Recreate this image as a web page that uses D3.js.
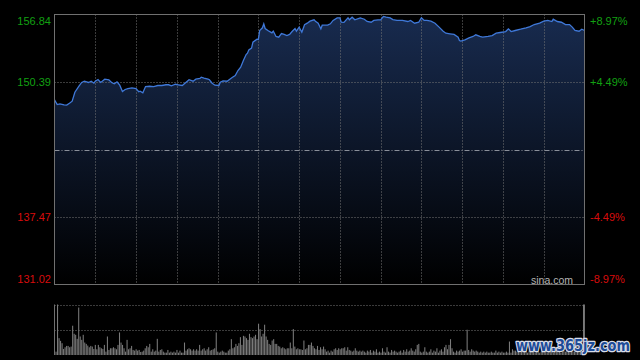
<!DOCTYPE html>
<html>
<head>
<meta charset="utf-8">
<script src="https://cdn.jsdelivr.net/npm/d3@7"></script>
<style>
  html, body { margin: 0; padding: 0; background: #000; }
  svg { display: block; }
</style>
</head>
<body>
<svg id="chart" width="640" height="360"></svg>
<script>
// minutes from the open (390 minute session) and price
const minutes = [0,2,4,7,9,11,13,15,18,20,22,25,27,29,30,32,34,37,40,42,44,46,48,50,52,54,57,60,62,63,65,67,70,73,76,79,82,84,86,89,91,94,96,
  99,102,104,107,108,110,113,114,116,118,121,122,124,127,129,131,133,135,137,139,141,142,143,145,146,149,150,151,153,154,155,157,160,161,163,165,167,169,171,173,175,177,178,180,182,184,186,188,191,192,194,
  196,197,201,203,205,208,210,211,213,216,217,219,221,225,228,230,233,235,238,240,242,244,247,249,252,256,260,262,265,268,270,272,274,277,280,283,286,288,291,
  294,297,298,299,302,305,308,310,313,315,319,322,325,328,332,334,336,339,343,347,350,353,357,360,363,366,367,370,373,376,379,381,383,386,388,390];
const prices = [148.68,148.23,148.30,148.20,148.18,148.36,148.55,149.41,149.98,150.34,150.46,150.34,150.46,150.27,150.46,150.62,150.34,150.65,150.60,150.34,150.21,150.40,150.08,149.48,149.67,149.76,149.83,149.76,149.45,149.51,149.35,149.95,149.98,149.95,150.05,150.05,150.12,150.12,150.02,150.17,150.12,150.05,150.27,
  150.60,150.46,150.65,150.72,150.84,150.75,150.65,150.60,150.27,150.08,150.05,150.37,150.50,150.46,150.65,150.84,151.01,151.48,151.80,152.44,153.01,153.14,153.46,153.62,154.19,154.48,154.45,155.31,155.57,155.95,155.50,155.31,155.09,155.24,154.74,154.67,155.02,154.93,154.83,154.93,155.24,155.50,155.24,155.63,155.15,155.86,156.01,156.20,156.33,156.20,156.01,
  155.47,155.82,155.82,155.95,156.27,156.52,156.52,156.10,156.08,156.52,156.33,156.58,156.33,156.52,156.39,156.17,156.10,156.27,156.33,156.33,156.65,156.58,156.52,156.36,156.27,156.27,156.17,156.27,156.01,156.10,156.52,156.27,156.27,156.20,156.01,155.63,155.24,155.05,154.99,
  154.93,154.67,154.35,154.29,154.42,154.61,154.74,154.90,154.74,154.67,154.74,154.83,155.05,155.12,155.21,155.47,155.21,155.31,155.43,155.57,155.69,155.88,156.01,156.20,156.27,156.17,156.39,156.17,156.10,155.88,155.88,155.63,155.31,155.24,155.43,155.31];

// volume (relative units, full panel = 150)
const volumes = [10,150,50,42,35,18,23,27,27,23,25,87,63,60,48,141,55,45,60,37,33,28,23,27,25,18,30,17,30,23,20,18,30,10,55,15,20,20,23,20,17,30,67,37,30,20,10,45,17,20,27,15,13,17,13,15,9,10,13,20,27,23,33,10,17,10,13,48,10,15,17,10,7,7,15,7,10,7,10,7,15,7,13,7,7,37,13,17,20,17,13,17,13,17,13,30,13,17,20,13,17,23,13,15,17,20,67,10,7,10,13,10,7,7,13,17,47,20,23,33,27,35,53,30,57,55,50,45,63,53,50,55,60,47,93,77,55,63,90,55,45,33,30,43,47,33,33,27,25,20,23,20,17,20,20,37,20,77,25,17,20,17,17,15,43,17,20,30,30,37,27,20,17,27,15,23,17,25,
  17,10,13,7,13,10,17,20,15,20,17,20,20,23,13,23,15,13,10,13,20,13,10,13,10,13,10,7,13,10,15,7,13,10,17,7,10,7,20,10,7,23,10,7,15,10,13,10,7,10,13,7,15,10,17,10,13,20,13,10,17,30,33,10,7,10,23,10,7,10,17,7,13,10,20,7,13,17,10,23,30,17,30,47,20,10,7,13,10,13,17,10,13,13,75,15,10,17,13,10,13,10,7,10,7,10,7,10,7,7,10,7,7,13,7,10,7,10,7,7,10,7,40,7,17,13,13,
  10,13,7,10,13,17,10,7,13,10,20,10,7,13,10,7,10,13,17,10,7,10,13,10,7,10,13,20,10,7,10,13,10,17,10,7,13,10,10,13,17,10,13,20,150];

const priceTicks = [156.84, 150.39, 143.93, 137.47, 131.02];
const pctLabels = ['+8.97%', '+4.49%', '', '-4.49%', '-8.97%'];
const timeTicks = [30,60,90,120,150,180,210,240,270,300,330,360];

window.onload = function() {
    drawChart();
};

function drawChart() {
    let svg = d3.select('#chart');
    let left = 54.5, right = 584.5, top = 14.5, bottom = 284.5;
    let vTop = 304.5, vBottom = 355;

    let x = d3.scaleLinear().domain([0, 390]).range([left, right]);
    let y = d3.scaleLinear().domain([131.02, 156.84]).range([bottom, top]);

    let defs = svg.append('defs');
    let grad = defs.append('linearGradient')
        .attr('id', 'fillGrad')
        .attr('gradientUnits', 'userSpaceOnUse')
        .attr('x1', 0).attr('y1', top).attr('x2', 0).attr('y2', bottom);
    grad.append('stop').attr('offset', '0%').attr('stop-color', '#182b4f');
    grad.append('stop').attr('offset', '100%').attr('stop-color', '#000000');

    let pts = minutes.map((m, i) => [m, prices[i]]);

    let area = d3.area()
        .x(d => x(d[0]))
        .y0(bottom)
        .y1(d => y(d[1]));
    svg.append('path')
        .datum(pts)
        .attr('fill', 'url(#fillGrad)')
        .attr('d', area);

    // grid
    svg.append('g').selectAll('line')
        .data(timeTicks)
        .enter().append('line')
        .attr('x1', d => Math.round(x(d)) + 0.5).attr('x2', d => Math.round(x(d)) + 0.5)
        .attr('y1', top).attr('y2', bottom)
        .attr('stroke', '#777').attr('stroke-width', 1)
        .attr('stroke-dasharray', '1,2');

    svg.append('g').selectAll('line')
        .data(priceTicks.slice(1, 4))
        .enter().append('line')
        .attr('x1', left).attr('x2', right)
        .attr('y1', d => Math.round(y(d)) + 0.5).attr('y2', d => Math.round(y(d)) + 0.5)
        .attr('stroke', (d, i) => i === 1 ? '#8a8f99' : '#777')
        .attr('stroke-width', 1)
        .attr('stroke-dasharray', (d, i) => i === 1 ? '5,2,1,2' : '1,2');

    let line = d3.line()
        .x(d => x(d[0]))
        .y(d => y(d[1]));
    svg.append('path')
        .datum(pts)
        .attr('fill', 'none')
        .attr('stroke', '#3f78d8')
        .attr('stroke-width', 1.3)
        .attr('d', line);

    // frame
    svg.append('rect')
        .attr('x', left).attr('y', top)
        .attr('width', right - left).attr('height', bottom - top)
        .attr('fill', 'none').attr('stroke', '#707070').attr('stroke-width', 1);

    // price labels
    let lbl = svg.append('g')
        .attr('font-family', 'Liberation Sans, Arial, sans-serif')
        .attr('font-size', 11);
    let labelY = (d, i) => i === 0 ? y(d) + 10 : (i === 4 ? y(d) - 2 : y(d) + 4);
    lbl.selectAll('.lp')
        .data(priceTicks)
        .enter().filter((d, i) => i !== 2)
        .append('text')
        .attr('x', 51).attr('text-anchor', 'end')
        .attr('y', d => labelY(d, priceTicks.indexOf(d)))
        .attr('fill', d => d > 143.93 ? '#12a012' : '#d80c0c')
        .text(d => d.toFixed(2));
    lbl.selectAll('.rp')
        .data(priceTicks)
        .enter().filter((d, i) => i !== 2)
        .append('text')
        .attr('x', 590)
        .attr('y', d => labelY(d, priceTicks.indexOf(d)))
        .attr('fill', d => d > 143.93 ? '#12a012' : '#d80c0c')
        .text(d => pctLabels[priceTicks.indexOf(d)]);

    svg.append('text')
        .attr('x', 573).attr('y', 283.5)
        .attr('text-anchor', 'end')
        .attr('font-family', 'Liberation Sans, Arial, sans-serif')
        .attr('font-size', 10.5)
        .attr('fill', '#b4b4b4')
        .text('sina.com');

    // volume panel
    let xb = d3.scaleBand()
        .domain(d3.range(volumes.length))
        .range([left + 1, right]);
    let yv = d3.scaleLinear().domain([0, 150]).range([vBottom, vTop]);

    svg.append('g').selectAll('line')
        .data([150, 75])
        .enter().append('line')
        .attr('x1', left).attr('x2', right)
        .attr('y1', d => Math.round(yv(d)) + 0.5).attr('y2', d => Math.round(yv(d)) + 0.5)
        .attr('stroke', '#777').attr('stroke-dasharray', '1,2');

    svg.append('g').selectAll('rect')
        .data(volumes)
        .enter().append('rect')
        .attr('x', (d, i) => xb(i))
        .attr('y', d => yv(d))
        .attr('width', Math.max(1, xb.bandwidth() * 0.7))
        .attr('height', d => vBottom - yv(d))
        .attr('fill', '#7a7a7a');

    svg.append('g').selectAll('line')
        .data([left, right])
        .enter().append('line')
        .attr('x1', d => d).attr('x2', d => d)
        .attr('y1', vTop).attr('y2', vBottom)
        .attr('stroke', '#707070');

    // site watermark
    svg.append('text')
        .attr('x', 516).attr('y', 351)
        .attr('font-family', 'DejaVu Sans, sans-serif')
        .attr('font-weight', 'bold')
        .attr('font-size', 15)
        .attr('textLength', 114)
        .attr('lengthAdjust', 'spacingAndGlyphs')
        .attr('fill', '#1d4b98')
        .attr('stroke', '#d8dde8')
        .attr('stroke-width', 2.5)
        .attr('stroke-linejoin', 'round')
        .attr('paint-order', 'stroke')
        .text('www.365jz.com');
}
</script>
</body>
</html>
